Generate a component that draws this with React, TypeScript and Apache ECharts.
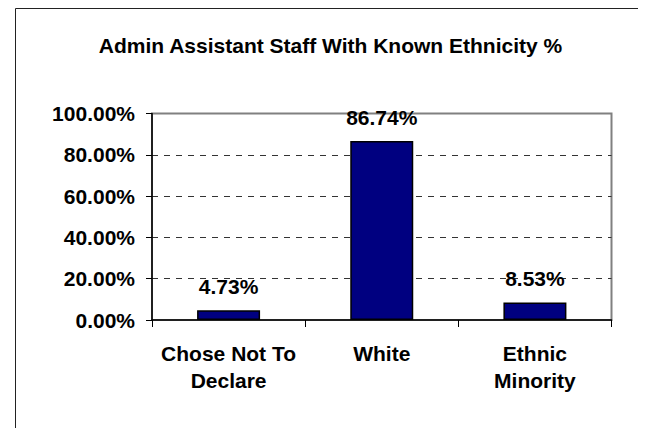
import React, { useEffect, useRef } from "react";
import * as echarts from "echarts";

const titleText = "Admin Assistant Staff With Known Ethnicity %";
const categories = ["Chose Not To\nDeclare", "White", "Ethnic\nMinority"];
const values = [4.73, 86.74, 8.53];
const yTicks = { min: 0, max: 100, interval: 20 };

const FONT = '"Liberation Sans", Arial, Helvetica, sans-serif';

export default function App() {
  const ref = useRef<HTMLDivElement>(null);
  useEffect(() => {
    if (!ref.current) return;
    const chart = echarts.init(ref.current, undefined, { renderer: "svg" });
    chart.setOption({
      animation: false,
      backgroundColor: "#ffffff",
      title: {
        text: titleText,
        left: 317.5,
        top: 21.5,
        textAlign: "center",
        textVerticalAlign: "top",
        textStyle: { fontFamily: FONT, fontWeight: "bold", fontSize: 21, color: "#000" },
      },
      graphic: [
        {
          type: "rect",
          shape: { x: 7.5, y: 0.5, width: 626, height: 500 },
          style: { fill: "none", stroke: "#222", lineWidth: 1 },
          silent: true,
          z: 0,
        },
      ],
      grid: {
        left: 144,
        top: 105.5,
        width: 459.5,
        height: 206.5,
        show: true,
        borderColor: "#808080",
        borderWidth: 2,
        backgroundColor: "transparent",
      },
      xAxis: {
        type: "category",
        data: categories,
        axisLine: { show: true, lineStyle: { color: "#000", width: 1.5 } },
        axisTick: { show: true, length: 7, alignWithLabel: false, lineStyle: { color: "#000", width: 1 } },
        axisLabel: {
          interval: 0,
          margin: 20,
          lineHeight: 27,
          fontFamily: FONT,
          fontWeight: "bold",
          fontSize: 21,
          color: "#000",
        },
        splitLine: { show: false },
      },
      yAxis: {
        type: "value",
        min: yTicks.min,
        max: yTicks.max,
        interval: yTicks.interval,
        axisLine: { show: true, lineStyle: { color: "#000", width: 1.5 } },
        axisTick: { show: true, length: 6, lineStyle: { color: "#000", width: 1 } },
        axisLabel: {
          margin: 17,
          fontFamily: FONT,
          fontWeight: "bold",
          fontSize: 21,
          color: "#000",
          formatter: (v: number) => v.toFixed(2) + "%",
        },
        splitLine: {
          show: true,
          showMinLine: false,
          showMaxLine: false,
          lineStyle: { color: "#333", width: 1, type: [6, 6] },
        },
      },
      series: [
        {
          type: "bar",
          data: values,
          barWidth: 63,
          itemStyle: { color: "#000080", borderColor: "#000", borderWidth: 1.5 },
          label: {
            show: true,
            position: "top",
            distance: 13,
            fontFamily: FONT,
            fontWeight: "bold",
            fontSize: 21,
            color: "#000",
            formatter: (p: any) => Number(p.value).toFixed(2) + "%",
          },
        },
      ],
    });
    return () => chart.dispose();
  }, []);
  return <div ref={ref} style={{ width: 638, height: 420 }} />;
}
